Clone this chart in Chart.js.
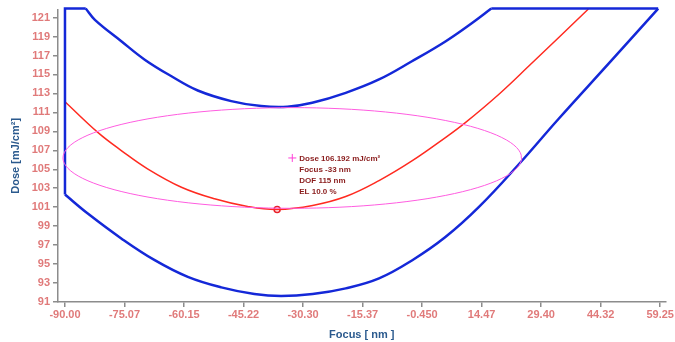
<!DOCTYPE html>
<html>
<head>
<meta charset="utf-8">
<script src="https://cdn.jsdelivr.net/npm/chart.js@4/dist/chart.umd.min.js"></script>
<style>
  body { margin: 0; background: #fff; }
  #wrap { width: 675px; height: 342px; }
</style>
</head>
<body>
<div id="wrap"><canvas id="chart" width="675" height="342"></canvas></div>
<script>
// tick values / labels
const focusTicks = [-90, -75.075, -60.15, -45.225, -30.3, -15.375, -0.45, 14.475, 29.4, 44.325, 59.25];
const focusTickLabels = ["-90.00", "-75.07", "-60.15", "-45.22", "-30.30", "-15.37", "-0.450", "14.47", "29.40", "44.32", "59.25"];
const doseTicks = [91, 93, 95, 97, 99, 101, 103, 105, 107, 109, 111, 113, 115, 117, 119, 121];

// process window boundary (blue): upper limit, lower limit, straight edges
const upperFocus = [-84.8, -82.5, -75.8, -70, -63.3, -56.7, -48.3, -40.8, -34.25, -28, -19.6, -11.25, -3, 5.4, 12, 16.9];
const upperDose = [121.95, 120.76, 118.48, 116.56, 114.81, 113.31, 112.19, 111.66, 111.59, 112.01, 113.06, 114.47, 116.39, 118.48, 120.4, 121.95];
const lowerFocus = [-90, -84.2, -75.8, -67.5, -59.2, -50.8, -42.5, -35.8, -27.9, -19.6, -11.25, -2.9, 5.4, 13.75, 23.75, 33.75, 47, 58.75];
const lowerDose = [102.33, 100.3, 97.68, 95.41, 93.65, 92.54, 91.84, 91.63, 91.84, 92.44, 93.49, 95.41, 97.85, 101.0, 105.5, 110.3, 116.45, 121.95];
const leftEdgeFocus = [-84.8, -90, -90];
const leftEdgeDose = [121.95, 121.95, 102.33];
const topEdgeFocus = [16.9, 58.75];
const topEdgeDose = [121.95, 121.95];

// best dose curve (red)
const bestFocus = [-90, -81.7, -75.8, -69.2, -60.8, -52.5, -44.2, -36.8, -27.9, -19.6, -11.25, -2.9, 5.4, 10.4, 18.75, 26.25, 41.25];
const bestDose = [112.12, 108.86, 106.95, 105.02, 103.1, 101.88, 101.07, 100.76, 101.18, 102.12, 103.8, 105.9, 108.34, 109.92, 112.89, 115.86, 121.9];
const minPoint = [-36.8, 100.76];

// process window result
const winFocus = -33;
const winDose = 106.192;
const winDOF = 115;
const winEL = 10.0;

const pts = (xs, ys) => xs.map((x, i) => ({ x: x, y: ys[i] }));

// ellipse from DOF (width) and EL (height)
const a = winDOF / 2, b = winDose * winEL / 100 / 2;
const ellipse = [];
for (let k = 0; k <= 120; k++) {
  const t = k / 120 * Math.PI * 2;
  ellipse.push({ x: winFocus + a * Math.cos(t), y: winDose + b * Math.sin(t) });
}

const labelPlugin = {
  id: 'windowLabel',
  afterDatasetsDraw(chart) {
    const ctx = chart.ctx;
    const px = chart.scales.x.getPixelForValue(winFocus);
    const py = chart.scales.y.getPixelForValue(winDose);
    const lines = ["Dose " + winDose.toFixed(3) + " mJ/cm²", "Focus " + winFocus + " nm", "DOF " + winDOF + " nm", "EL " + winEL.toFixed(1) + " %"];
    ctx.save();
    ctx.font = "bold 8px 'Liberation Sans', Arial, sans-serif";
    ctx.fillStyle = '#8a1c1c';
    ctx.textBaseline = 'middle';
    lines.forEach((t, i) => ctx.fillText(t, px + 7, py + 1 + i * 10.9));
    ctx.restore();
  }
};

const tickFont = { family: "'Liberation Sans', Arial, sans-serif", size: 11, weight: 'bold' };
const titleFont = { family: "'Liberation Sans', Arial, sans-serif", size: 11, weight: 'bold' };
const blue = { showLine: true, borderColor: '#1428d8', borderWidth: 2.5, pointRadius: 0, clip: false };

new Chart(document.getElementById('chart'), {
  type: 'scatter',
  data: {
    datasets: [
      { data: ellipse, showLine: true, borderColor: '#ff5ce0', borderWidth: 1, pointRadius: 0, tension: 0 },
      Object.assign({ data: pts(upperFocus, upperDose), tension: 0.4 }, blue),
      Object.assign({ data: pts(lowerFocus, lowerDose), tension: 0.4 }, blue),
      Object.assign({ data: pts(leftEdgeFocus, leftEdgeDose), tension: 0 }, blue),
      Object.assign({ data: pts(topEdgeFocus, topEdgeDose), tension: 0 }, blue),
      { data: pts(bestFocus, bestDose), showLine: true, borderColor: '#ff2a20', borderWidth: 1.5, pointRadius: 0, tension: 0.4, clip: false },
      { data: [{ x: minPoint[0], y: minPoint[1] }], pointRadius: 3, pointBorderWidth: 1.5, borderColor: '#e8202a', backgroundColor: '#ffffff' },
      { data: [{ x: winFocus, y: winDose }], pointStyle: 'cross', pointRadius: 4, pointBorderWidth: 1, borderColor: '#ff40d8' }
    ]
  },
  options: {
    responsive: false,
    animation: false,
    layout: { padding: { top: 0, right: 8, left: 0, bottom: 0 } },
    plugins: { legend: { display: false }, tooltip: { enabled: false } },
    scales: {
      x: {
        type: 'linear',
        min: -91.75,
        max: 60.6,
        afterBuildTicks: s => { s.ticks = focusTicks.map(v => ({ value: v })); },
        afterFit: s => { s.height = 40; },
        ticks: {
          autoSkip: false, maxRotation: 0, padding: 1, color: '#e07a7a', font: tickFont,
          callback: (v, i) => focusTickLabels[i]
        },
        grid: { drawOnChartArea: false, drawTicks: true, tickLength: 5, color: '#8c8c8c', lineWidth: 1.5 },
        border: { display: true, color: '#8c8c8c', width: 1.5 },
        title: { display: true, text: 'Focus [ nm ]', color: '#2b5a8e', font: titleFont, padding: { top: 2, bottom: 0 } }
      },
      y: {
        type: 'linear',
        min: 91,
        max: 121.84,
        afterBuildTicks: s => { s.ticks = doseTicks.map(v => ({ value: v })); },
        afterFit: s => { s.width = 58; },
        ticks: { autoSkip: false, padding: 3, color: '#e07a7a', font: tickFont },
        grid: { drawOnChartArea: false, drawTicks: true, tickLength: 5, color: '#8c8c8c', lineWidth: 1.5 },
        border: { display: true, color: '#8c8c8c', width: 1.5 },
        title: { display: true, text: 'Dose [mJ/cm²]', color: '#2b5a8e', font: titleFont, padding: { top: 9, bottom: 4 } }
      }
    }
  },
  plugins: [labelPlugin]
});
</script>
</body>
</html>
